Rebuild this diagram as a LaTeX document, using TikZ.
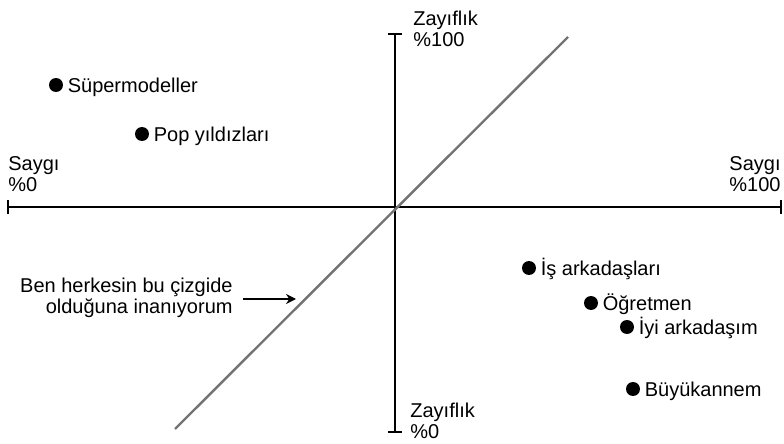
\documentclass[tikz,border=0pt]{standalone}
\usepackage{fontspec}
\setmainfont{Liberation Sans}
\usetikzlibrary{positioning,arrows.meta}

\tikzset{
  dot/.style={circle,fill=black,inner sep=0pt,minimum size=7pt},
  item/.style={inner sep=0pt,text height=7.2pt,text depth=0pt},
  axislab/.style={inner sep=0pt,font=\fontsize{10}{10.5}\selectfont},
  axis/.style={line width=0.7pt},
}

\begin{document}
\begin{tikzpicture}[x=0.5pt,y=-0.5pt,font=\fontsize{10}{12}\selectfont]
    \useasboundingbox (0,0) rectangle (784,444);
    % axes
    \coordinate (left) at (8,207);
    \coordinate (right) at (781,207);
    \coordinate (top) at (395,34);
    \coordinate (bottom) at (395,432);
    \draw[axis] (left) -- (right);
    \draw[axis] (top) -- (bottom);
    \draw[axis] ([yshift=3.5pt]left) -- ([yshift=-3.5pt]left);
    \draw[axis] ([yshift=3.5pt]right) -- ([yshift=-3.5pt]right);
    \draw[axis] ([xshift=-3.5pt]top) -- ([xshift=3.5pt]top);
    \draw[axis] ([xshift=-3.5pt]bottom) -- ([xshift=3.5pt]bottom);
    % axis labels
    \node[axislab, anchor=north west, align=left] (wtop) at (413,11) {Zayıflık\\\%100};
    \node[axislab, anchor=north west, align=left] (wbot) at (410,403) {Zayıflık\\\%0};
    \node[axislab, anchor=north west, align=left] (sleft) at (8,156) {Saygı\\\%0};
    \node[axislab, anchor=north east, align=right] (sright) at (781,156) {Saygı\\\%100};
    % diagonal
    \coordinate (dlow) at (175,429);
    \coordinate (dhigh) at (568,37);
    \draw[line width=1.2pt, black!55] (dlow) -- (dhigh);
    % points
    \foreach \n/\x/\y/\lab in {sm/56/85/Süpermodeller, pop/142/134/Pop yıldızları,
        is/529/268/İş arkadaşları, og/591/303/Öğretmen, iyi/627/327/İyi arkadaşım,
        bk/633/389/Büyükannem} {
        \node[dot] (\n) at (\x,\y) {};
        \node[item, right=2pt of \n] (\n lab) {\lab};
    }
    % belief
    \node[axislab, anchor=north east, align=right] (belief) at (233,278) {Ben herkesin bu çizgide\\olduğuna inanıyorum};
    \coordinate (tip) at (296,299);
    \draw[line width=0.6pt, -{Stealth[length=5pt,width=5pt]}] (belief.east |- tip) ++(5pt,0) -- (tip);
\end{tikzpicture}
\end{document}
